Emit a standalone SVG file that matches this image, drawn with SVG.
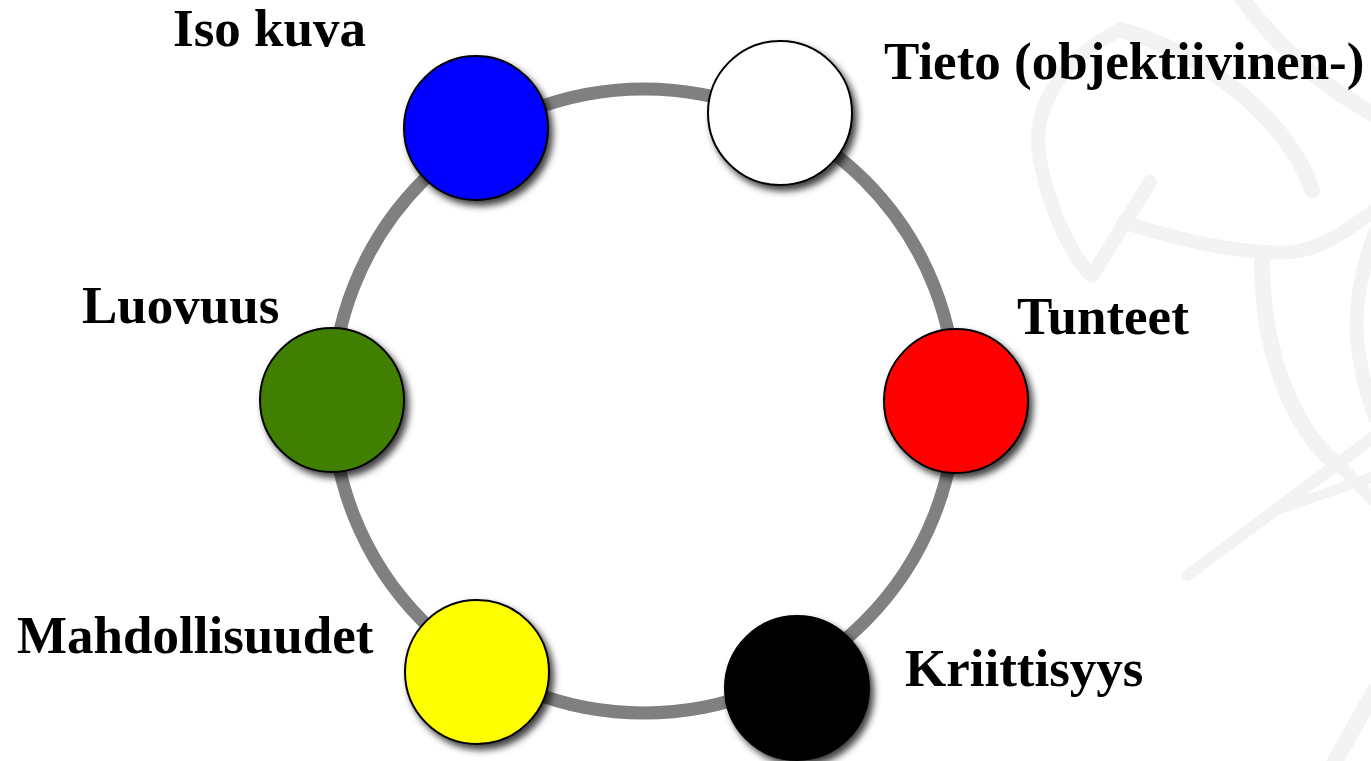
<svg xmlns="http://www.w3.org/2000/svg" width="1371" height="761" viewBox="0 0 1371 761">
  <style>
    .lbl { font-family: "Liberation Serif", "Times New Roman", serif; font-weight: bold; font-size: 53px; fill: #000; }
    .node { stroke: #000; stroke-width: 2; filter: url(#shadow); }
    .ring { fill: none; stroke: #808080; stroke-width: 13; }
    .mark { fill: none; stroke: #f3f3f3; stroke-linecap: round; stroke-linejoin: round; }
  </style>
  <defs>
    <filter id="shadow" x="-30%" y="-30%" width="170%" height="170%">
      <feDropShadow dx="4" dy="5" stdDeviation="3.5" flood-color="#000" flood-opacity="0.75"/>
    </filter>
  </defs>

  <rect width="1371" height="761" fill="#fff"/>

  <!-- faint background emblem on the right -->
  <g id="emblem">
    <path class="mark" stroke-width="16" d="M1240,-5 C1275,45 1320,85 1375,115"/>
    <path class="mark" stroke-width="14" d="M1120,30 C1060,60 1030,110 1040,160 C1050,215 1075,260 1092,276 L1150,182"/>
    <path class="mark" stroke-width="16" d="M1120,30 C1200,50 1290,120 1312,190"/>
    <path class="mark" stroke-width="14" d="M1123,222 C1180,240 1240,255 1293,252 C1325,248 1350,228 1375,210"/>
    <path class="mark" stroke-width="14" d="M1375,232 C1358,280 1352,320 1360,360 C1364,385 1370,405 1375,418"/>
    <path class="mark" stroke-width="16" d="M1262,262 C1262,320 1275,375 1300,420 C1315,445 1330,460 1340,466"/>
    <path class="mark" stroke-width="12" d="M1188,575 L1375,436"/>
    <path class="mark" stroke-width="10" d="M1283,508 L1375,476"/>
    <path class="mark" stroke-width="12" d="M1333,458 L1375,502"/>
    <path class="mark" stroke-width="16" d="M1333,765 L1375,690"/>
  </g>

  <!-- connecting ring -->
  <g id="connectors">
    <circle class="ring" cx="644" cy="401" r="312"/>
  </g>

  <g id="node-iso-kuva">
    <circle class="node" cx="476" cy="128" r="72" fill="#0000ff"/>
    <text class="lbl" x="173" y="46">Iso kuva</text>
  </g>

  <g id="node-tieto">
    <circle class="node" cx="780" cy="113" r="72" fill="#ffffff"/>
    <text class="lbl" x="884" y="79">Tieto (objektiivinen-)</text>
  </g>

  <g id="node-luovuus">
    <circle class="node" cx="332" cy="400" r="72" fill="#3f7f00"/>
    <text class="lbl" x="82" y="323">Luovuus</text>
  </g>

  <g id="node-tunteet">
    <circle class="node" cx="956" cy="401" r="72" fill="#ff0000"/>
    <text class="lbl" x="1017" y="334">Tunteet</text>
  </g>

  <g id="node-mahdollisuudet">
    <circle class="node" cx="477" cy="672" r="72" fill="#ffff00"/>
    <text class="lbl" x="17" y="653">Mahdollisuudet</text>
  </g>

  <g id="node-kriittisyys">
    <circle class="node" cx="797" cy="688" r="72" fill="#000000"/>
    <text class="lbl" x="905" y="686">Kriittisyys</text>
  </g>
</svg>
